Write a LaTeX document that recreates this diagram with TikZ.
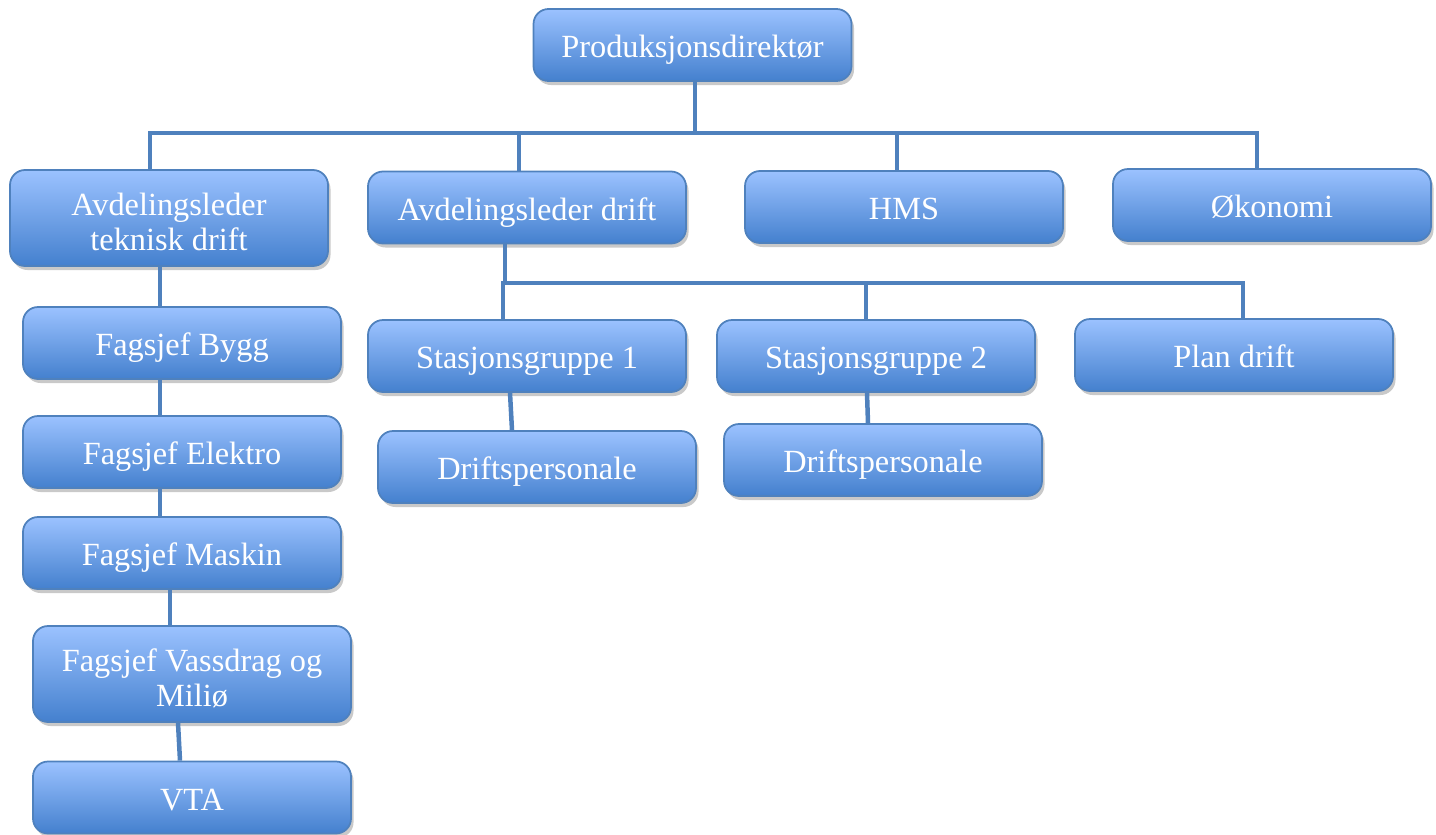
\documentclass[tikz,border=0pt]{standalone}
\usepackage{fontspec}
\setmainfont{Liberation Serif}
\usetikzlibrary{shadows}
\definecolor{boxtop}{RGB}{155,194,255}
\definecolor{boxbottom}{RGB}{68,128,206}
\definecolor{boxline}{RGB}{79,129,189}
\definecolor{linkblue}{RGB}{79,129,189}
\begin{document}
\begin{tikzpicture}[
    basebox/.style={rectangle, draw=boxline, line width=1pt, top color=boxtop, bottom color=boxbottom,
        minimum width=6.36cm, text centered, align=center, text=white,
        font=\fontsize{18.4}{20}\selectfont, rounded corners=0.3cm,
        drop shadow={shadow xshift=0.05cm, shadow yshift=-0.08cm, opacity=0.3, fill=black!70}},
    box/.style={basebox, minimum height=1.44cm, text height=0.62cm, text depth=0.12cm},
    tallbox/.style={basebox, minimum height=1.92cm, text height=1.3cm, text depth=0cm},
    conn/.style={draw=linkblue, line width=0.09cm}
]
\useasboundingbox (0,0) rectangle (28.72,-16.68);

% Top level
\node[box] (top) at (13.85,-0.90) {Produksjonsdirektør};

% Second level
\node[tallbox] (adt) at (3.38,-4.36) {Avdelingsleder\\teknisk drift};
\node[box] (ad) at (10.54,-4.15) {Avdelingsleder drift};
\node[box] (hms) at (18.08,-4.14) {HMS};
\node[box] (oko) at (25.44,-4.10) {Økonomi};

% Under Avdelingsleder drift
\node[box] (sg1) at (10.54,-7.12) {Stasjonsgruppe 1};
\node[box] (sg2) at (17.52,-7.12) {Stasjonsgruppe 2};
\node[box] (plan) at (24.68,-7.10) {Plan drift};
\node[box] (dp1) at (10.74,-9.34) {Driftspersonale};
\node[box] (dp2) at (17.66,-9.20) {Driftspersonale};

% Under Avdelingsleder teknisk drift
\node[box] (bygg) at (3.64,-6.86) {Fagsjef Bygg};
\node[box] (elektro) at (3.64,-9.04) {Fagsjef Elektro};
\node[box] (maskin) at (3.64,-11.06) {Fagsjef Maskin};
\node[tallbox] (vass) at (3.84,-13.48) {Fagsjef Vassdrag og\\Miliø};
\node[box] (vta) at (3.84,-15.95) {VTA};

\coordinate (bus) at (0,-2.66);
\coordinate (bus2) at (0,-5.66);

% Links from the top
\draw[conn] ([xshift=0.05cm]top.south) -- ([xshift=0.05cm]top.south |- bus);
\draw[conn] ([xshift=-0.38cm]adt.north) |- ([xshift=-0.3cm]oko.north |- bus) -- ([xshift=-0.3cm]oko.north);
\draw[conn] ([xshift=-0.16cm]ad.north) -- ([xshift=-0.16cm]ad.north |- bus);
\draw[conn] ([xshift=-0.14cm]hms.north) -- ([xshift=-0.14cm]hms.north |- bus);

% Links from Avdelingsleder drift
\draw[conn] ([xshift=-0.44cm]ad.south) -- ([xshift=-0.44cm]ad.south |- bus2);
\draw[conn] ([xshift=-0.48cm]sg1.north) |- ([xshift=0.18cm]plan.north |- bus2) -- ([xshift=0.18cm]plan.north);
\draw[conn] ([xshift=-0.2cm]sg2.north) -- ([xshift=-0.2cm]sg2.north |- bus2);
\draw[conn] ([xshift=-0.34cm]sg1.south) -- ([xshift=-0.5cm]dp1.north);
\draw[conn] ([xshift=-0.18cm]sg2.south) -- ([xshift=-0.3cm]dp2.north);

% Chain under Avdelingsleder teknisk drift
\draw[conn] ([xshift=-0.44cm]bygg.north) -- ([xshift=-0.44cm]bygg.north |- adt.south);
\draw[conn] ([xshift=-0.44cm]bygg.south) -- ([xshift=-0.44cm]elektro.north);
\draw[conn] ([xshift=-0.44cm]elektro.south) -- ([xshift=-0.44cm]maskin.north);
\draw[conn] ([xshift=-0.24cm]maskin.south) -- ([xshift=-0.44cm]vass.north);
\draw[conn] ([xshift=-0.28cm]vass.south) -- ([xshift=-0.24cm]vta.north);

\end{tikzpicture}
\end{document}
